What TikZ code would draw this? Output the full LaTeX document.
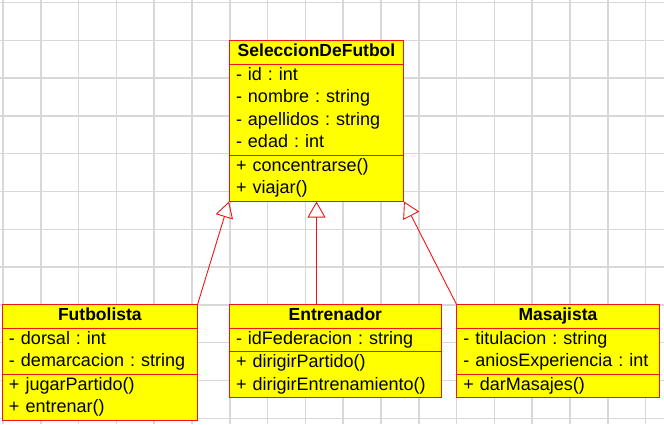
\documentclass[tikz,border=0pt]{standalone}
\usepackage{fontspec}
\setmainfont{Liberation Sans}
\usetikzlibrary{positioning,shapes.multipart,arrows.meta}
\definecolor{umlyellow}{RGB}{255,255,0}
\definecolor{umlred}{RGB}{240,20,20}
\definecolor{gridgray}{RGB}{216,216,216}
\newcommand{\classname}[1]{\hspace*{\fill}{\fontsize{17.5}{22.5}\selectfont\bfseries #1}\hspace*{\fill}\strut}

\begin{document}
\begin{tikzpicture}[x=1pt,y=-1pt,
    umlclass/.style={rectangle split, rectangle split parts=3, draw=umlred, fill=umlyellow, line width=1pt, inner xsep=6.5pt, inner ysep=0pt, align=left, font=\fontsize{18}{22.5}\selectfont\frenchspacing},
    inherit/.style={draw=umlred, line width=0.9pt, -{Triangle[open,length=16pt,width=18pt]}},
    gridline/.style={draw=gridgray, line width=1.5pt}]

                \useasboundingbox (0,0) rectangle (664,424);
                \fill[white] (0,0) rectangle (664,424);

                % background grid
                \foreach \i in {0,...,17}
                    \draw[gridline] ({3+37.8*\i},0) -- ({3+37.8*\i},424);
                \foreach \j in {0,...,11}
                    \draw[gridline] (0,{2.5+37.8*\j}) -- (664,{2.5+37.8*\j});

                \node[umlclass, text width=161pt, anchor=north west] (seleccion) at (229,40)
                    {\classname{SeleccionDeFutbol}
                     \nodepart{second}- id : int\strut\\- nombre : string\strut\\- apellidos : string\strut\\- edad : int\strut
                     \nodepart{third}+ concentrarse()\strut\\+ viajar()\strut};
                \node[umlclass, text width=198.7pt, below=102.5pt of seleccion.south west, anchor=north west] (entrenador)
                    {\classname{Entrenador}
                     \nodepart{second}- idFederacion : string\strut
                     \nodepart{third}+ dirigirPartido()\strut\\+ dirigirEntrenamiento()\strut};
                \node[umlclass, text width=181.7pt, left=31.3pt of entrenador.north west, anchor=north east] (futbolista)
                    {\classname{Futbolista}
                     \nodepart{second}- dorsal : int\strut\\- demarcacion : string\strut
                     \nodepart{third}+ jugarPartido()\strut\\+ entrenar()\strut};
                \node[umlclass, text width=189.4pt, right=14.6pt of entrenador.north east, anchor=north west] (masajista)
                    {\classname{Masajista}
                     \nodepart{second}- titulacion : string\strut\\- aniosExperiencia : int\strut
                     \nodepart{third}+ darMasajes()\strut};

                % generalizations
                \draw[inherit] (futbolista.north east) -- (seleccion.south west);
                \draw[inherit] (seleccion.south |- entrenador.north) -- (seleccion.south);
                \draw[inherit] (masajista.north west) -- (seleccion.south east);
            \end{tikzpicture}
\end{document}
